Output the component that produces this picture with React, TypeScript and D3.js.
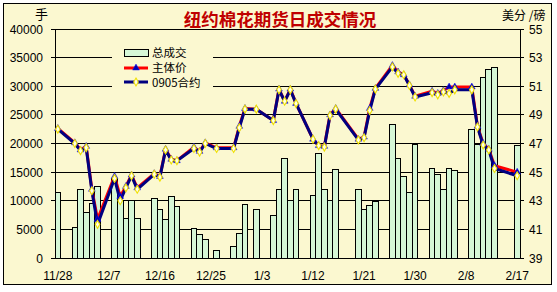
import React from 'react';
import * as d3 from 'd3';

// ---- data ----
const tradeDates = [
  "2008-11-28",
  "2008-12-01", "2008-12-02", "2008-12-03", "2008-12-04", "2008-12-05",
  "2008-12-08", "2008-12-09", "2008-12-10", "2008-12-11", "2008-12-12",
  "2008-12-15", "2008-12-16", "2008-12-17", "2008-12-18", "2008-12-19",
  "2008-12-22", "2008-12-23", "2008-12-24", "2008-12-26",
  "2008-12-29", "2008-12-30", "2008-12-31", "2009-01-02",
  "2009-01-05", "2009-01-06", "2009-01-07", "2009-01-08", "2009-01-09",
  "2009-01-12", "2009-01-13", "2009-01-14", "2009-01-15", "2009-01-16",
  "2009-01-20", "2009-01-21", "2009-01-22", "2009-01-23",
  "2009-01-26", "2009-01-27", "2009-01-28", "2009-01-29", "2009-01-30",
  "2009-02-02", "2009-02-03", "2009-02-04", "2009-02-05", "2009-02-06",
  "2009-02-09", "2009-02-10", "2009-02-11", "2009-02-12", "2009-02-13",
  "2009-02-17",
];

// 总成交 (手)
const volume = [
  11500,
  5360, 11900, 7900, 9550, 12450,
  13800, 10000, 6940, 9960, 6940,
  10430, 8390, 6640, 10700, 8960,
  5190, 4190, 3260, 1350,
  2050, 4200, 9260, 8390,
  7370, 12000, 17400, 9960, 12000,
  11000, 18300, 11900, 10050, 15500,
  11900, 8390, 9200, 9900,
  23360, 17400, 14300, 11450, 19800,
  15670, 14600, 11880, 15670, 15370,
  22500, 19800, 31600, 33000, 33350,
  19600,
];

// 主体价 (美分/磅)
const mainPrice = [
  48.05,
  47.05, 46.55, 46.8, 43.8, 41.7,
  44.7, 43.3, 44.0, 44.8, 43.9,
  44.9, 44.7, 46.6, 45.9, 45.8,
  46.75, 46.45, 47.05, 46.7,
  46.7, 48.2, 49.45, 49.4,
  48.6, 50.8, 49.95, 50.8, 49.8,
  47.3, 46.85, 46.8, 49.0, 49.45,
  47.3, 47.45, 49.45, 50.85,
  52.45, 52.0, 51.8, 51.1, 50.3,
  50.65, 50.5, 50.7, 50.95, 50.95,
  50.95, 48.2, 47.0, 46.6, 45.45,
  45.0,
];

// 0905合约 (美分/磅)
const contract0905 = [
  48.0,
  47.0, 46.5, 46.7, 43.7, 41.35,
  44.55, 43.0, 43.9, 44.75, 43.8,
  44.85, 44.65, 46.55, 45.85, 45.8,
  46.65, 46.4, 47.0, 46.65,
  46.65, 48.1, 49.4, 49.4,
  48.6, 50.75, 49.95, 50.75, 49.8,
  47.3, 46.85, 46.75, 48.95, 49.4,
  47.25, 47.4, 49.3, 50.8,
  52.35, 51.9, 51.8, 51.05, 50.25,
  50.55, 50.4, 50.6, 50.5, 50.75,
  50.75, 48.15, 46.9, 46.55, 45.25,
  44.75,
];

const xTickLabels = ["11/28", "12/7", "12/16", "12/25", "1/3", "1/12", "1/21", "1/30", "2/8", "2/17"];
const leftTicks = [0, 5000, 10000, 15000, 20000, 25000, 30000, 35000, 40000];
const rightTicks = [39, 41, 43, 45, 47, 49, 51, 53, 55];

const W = 557;
const H = 292;
const BG = '#FBF8D0';
const BAR = '#D6F7D6';
const RED = '#FF0000';
const NAVY = '#000080';
const NUM_FONT = '"Liberation Sans", Arial, sans-serif';
const CJK_FONT = '"Noto Sans CJK SC", "Noto Sans", sans-serif';

export default function App() {
  const parse = d3.timeParse('%Y-%m-%d');
  const fmt = d3.timeFormat('%Y-%m-%d');
  const days = d3.timeDay.range(parse('2008-11-28')!, parse('2009-02-18')!).map(fmt);

  const left = 55, right = 520, top = 29, bottom = 258;
  const x = d3.scaleBand<string>().domain(days).range([left, right]).padding(0);
  const bw = x.bandwidth();
  const cx = (d: string) => (x(d) as number) + bw / 2;
  const yL = d3.scaleLinear().domain([0, 40000]).range([bottom, top]);
  const yR = d3.scaleLinear().domain([39, 55]).range([bottom, top]);

  const lineGen = d3.line<number>()
    .x((_, i) => cx(tradeDates[i]))
    .y((v) => yR(v));

  const tickDays = days.filter((_, i) => i % 9 === 0);

  const tri = d3.symbol().type(d3.symbolTriangle).size(20)()!;
  const dia = d3.symbol().type(d3.symbolDiamond).size(18)()!;

  const legend = { x: 112, y: 44, w: 101, h: 48 };

  return (
    <div style={{ position: 'absolute', left: 0, top: 0, background: '#fff' }}>
      <svg width={W} height={H} viewBox={`0 0 ${W} ${H}`} style={{ display: 'block' }}>
        <rect x={0} y={0} width={W} height={H} fill="#ffffff" />
        <rect x={3.5} y={3.5} width={548} height={281} fill={BG} stroke="#000" strokeWidth={1} />

        {/* title */}
        <text x={280} y={26} textAnchor="middle" fill="#C00000" fontFamily={CJK_FONT}
          fontWeight="bold" fontSize={17.5}>纽约棉花期货日成交情况</text>

        {/* unit labels */}
        <text x={48} y={19} textAnchor="end" fontFamily={CJK_FONT} fontSize={13} fill="#000">手</text>
        <text x={502} y={20} fontFamily={CJK_FONT} fontSize={12} fill="#000">美分 /磅</text>

        {/* plot area */}
        <rect x={left} y={top} width={right - left} height={bottom - top} fill={BG} />

        {/* gridlines */}
        {leftTicks.map((t) => (
          <line key={'g' + t} x1={left} x2={right} y1={yL(t)} y2={yL(t)} stroke="#000"
            strokeWidth={1} shapeRendering="crispEdges" />
        ))}

        {/* bars */}
        {tradeDates.map((d, i) => (
          <rect key={'b' + d} x={x(d) as number} y={yL(volume[i])} width={bw}
            height={bottom - yL(volume[i])} fill={BAR} stroke="#000" strokeWidth={1}
            shapeRendering="crispEdges" />
        ))}

        {/* axes */}
        <line x1={left} x2={left} y1={top} y2={bottom} stroke="#000" shapeRendering="crispEdges" />
        <line x1={right} x2={right} y1={top} y2={bottom} stroke="#000" shapeRendering="crispEdges" />
        <line x1={left} x2={right} y1={bottom} y2={bottom} stroke="#000" shapeRendering="crispEdges" />
        {leftTicks.map((t) => (
          <line key={'lt' + t} x1={left - 4} x2={left} y1={yL(t)} y2={yL(t)} stroke="#000"
            shapeRendering="crispEdges" />
        ))}
        {rightTicks.map((t) => (
          <line key={'rt' + t} x1={right} x2={right + 4} y1={yR(t)} y2={yR(t)} stroke="#000"
            shapeRendering="crispEdges" />
        ))}

        {/* left labels */}
        {leftTicks.map((t) => (
          <text key={'ll' + t} x={43} y={yL(t) + 4.5} textAnchor="end" fontFamily={NUM_FONT}
            fontSize={12} fill="#000">{t}</text>
        ))}
        {/* right labels */}
        {rightTicks.map((t) => (
          <text key={'rl' + t} x={529} y={yR(t) + 4.5} fontFamily={NUM_FONT} fontSize={12}
            fill="#000">{t}</text>
        ))}
        {/* x labels */}
        {tickDays.map((d, i) => (
          <text key={'xl' + d} x={cx(d)} y={280} textAnchor="middle" fontFamily={NUM_FONT}
            fontSize={12} fill="#000">{xTickLabels[i]}</text>
        ))}

        {/* 主体价 */}
        <path d={lineGen(mainPrice) || ''} fill="none" stroke={RED} strokeWidth={3}
          strokeLinejoin="round" />
        {/* 0905合约 */}
        <path d={lineGen(contract0905) || ''} fill="none" stroke={NAVY} strokeWidth={3}
          strokeLinejoin="round" />

        {mainPrice.map((v, i) => (
          <path key={'mt' + i} d={tri} transform={`translate(${cx(tradeDates[i])},${yR(v)})`}
            fill="#0000B0" stroke="#1010FF" strokeWidth={0.5} />
        ))}
        {contract0905.map((v, i) => (
          <path key={'md' + i} d={dia} transform={`translate(${cx(tradeDates[i])},${yR(v)})`}
            fill="#FFFFE8" stroke="#F0E000" strokeWidth={1.1} />
        ))}

        {/* legend */}
        <rect x={legend.x} y={legend.y} width={legend.w} height={legend.h} fill={BG} />
        <rect x={124} y={49.5} width={24} height={7} fill={BAR} stroke="#000" strokeWidth={1}
          shapeRendering="crispEdges" />
        <text x={152} y={57} fontFamily={CJK_FONT} fontSize={11.5} fill="#000">总成交</text>
        <line x1={124} x2={148} y1={68} y2={68} stroke={RED} strokeWidth={3} />
        <path d={tri} transform="translate(136,68)" fill="#0000B0" stroke="#1010FF" strokeWidth={0.5} />
        <text x={152} y={72} fontFamily={CJK_FONT} fontSize={11.5} fill="#000">主体价</text>
        <line x1={124} x2={148} y1={82} y2={82} stroke={NAVY} strokeWidth={3} />
        <path d={dia} transform="translate(136,82)" fill="#FFFFE8" stroke="#F0E000" strokeWidth={1.1} />
        <text x={152} y={87} fontFamily={CJK_FONT} fontSize={11.5} fill="#000">0905合约</text>
      </svg>
    </div>
  );
}
